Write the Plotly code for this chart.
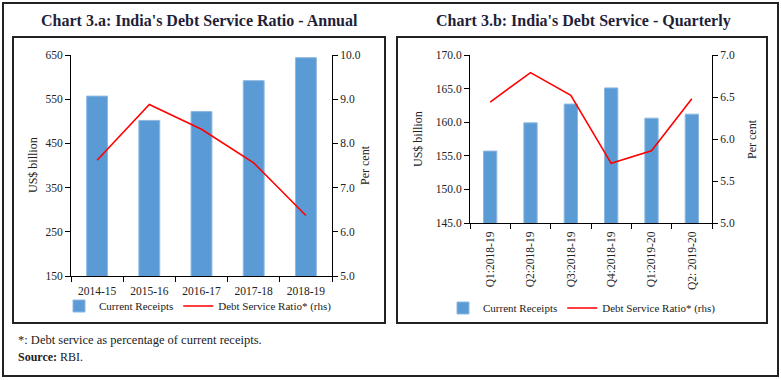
import plotly.graph_objects as go

W, H = 781, 380

years = ["2014-15", "2015-16", "2016-17", "2017-18", "2018-19"]
annual_receipts = [557, 502, 522, 592, 644]
annual_dsr = [7.62, 8.88, 8.32, 7.56, 6.37]

quarters = ["Q1:2018-19", "Q2:2018-19", "Q3:2018-19", "Q4:2018-19", "Q1:2019-20", "Q2: 2019-20"]
q_receipts = [155.7, 159.9, 162.7, 165.1, 160.6, 161.2]
q_dsr = [6.44, 6.79, 6.52, 5.71, 5.86, 6.48]

BAR = "#5B9BD5"
SERIF = "Liberation Serif"
TXT = "#222"

def px(x):
    return x / W

def py(y):
    return 1 - y / H

fig = go.Figure()

fig.add_trace(go.Bar(x=years, y=annual_receipts, name="Current Receipts",
                     marker=dict(color=BAR, line=dict(color="#8FB8E0", width=1)),
                     width=0.4, xaxis="x", yaxis="y", legend="legend"))
fig.add_trace(go.Scatter(x=years, y=annual_dsr, name="Debt Service Ratio* (rhs)",
                         mode="lines", line=dict(color="#FF0000", width=1.6),
                         xaxis="x", yaxis="y2", legend="legend"))
fig.add_trace(go.Bar(x=quarters, y=q_receipts, name="Current Receipts",
                     marker=dict(color=BAR, line=dict(color="#8FB8E0", width=1)),
                     width=0.33, xaxis="x2", yaxis="y3", legend="legend2"))
fig.add_trace(go.Scatter(x=quarters, y=q_dsr, name="Debt Service Ratio* (rhs)",
                         mode="lines", line=dict(color="#FF0000", width=1.6),
                         xaxis="x2", yaxis="y4", legend="legend2"))

tickfont = dict(family=SERIF, size=11.5, color=TXT)
common = dict(showline=True, linecolor="black", linewidth=1, ticks="outside",
              ticklen=5, tickcolor="black", showgrid=False, zeroline=False,
              tickfont=tickfont, automargin=False)

legfont = dict(family=SERIF, size=11, color=TXT)

fig.update_layout(
    template="none",
    width=W, height=H,
    margin=dict(l=0, r=0, t=0, b=0, pad=0, autoexpand=False),
    paper_bgcolor="white", plot_bgcolor="white",
    showlegend=True,
    xaxis=dict(domain=[px(71), px(332)], anchor="y", tickson="boundaries",
               ticklabelstandoff=4, **common),
    yaxis=dict(domain=[py(276), py(55)], anchor="x", range=[150, 650], dtick=100,
               tick0=150, **common),
    yaxis2=dict(overlaying="y", side="right", anchor="x", range=[5, 10], dtick=1,
                tickformat=".1f", **common),
    xaxis2=dict(domain=[px(470), px(712)], anchor="y3", tickson="boundaries",
                tickangle=-90, ticklabelstandoff=3, **common),
    yaxis3=dict(domain=[py(223), py(55)], anchor="x2", range=[145, 170], dtick=5,
                tickformat=".1f", **common),
    yaxis4=dict(overlaying="y3", side="right", anchor="x2", range=[5, 7], dtick=0.5,
                tickformat=".1f", **common),
    legend=dict(orientation="h", x=px(59), y=py(306), xanchor="left", yanchor="middle",
                font=legfont, itemwidth=30,
                bgcolor="rgba(0,0,0,0)", tracegroupgap=0),
    legend2=dict(orientation="h", x=px(443), y=py(308), xanchor="left", yanchor="middle",
                 font=legfont, itemwidth=30,
                 bgcolor="rgba(0,0,0,0)", tracegroupgap=0),
)

shapes = [
    dict(type="rect", xref="paper", yref="paper", x0=px(3), x1=px(778), y0=py(376), y1=py(3),
         line=dict(color="#222", width=2)),
    dict(type="rect", xref="paper", yref="paper", x0=px(13), x1=px(385), y0=py(323), y1=py(37),
         line=dict(color="#222", width=2)),
    dict(type="rect", xref="paper", yref="paper", x0=px(397), x1=px(767), y0=py(323), y1=py(37),
         line=dict(color="#222", width=2)),
]
fig.update_layout(shapes=shapes)

ann = []
ann.append(dict(text="<b>Chart 3.a: India's Debt Service Ratio - Annual</b>", x=px(199), y=py(21),
                xref="paper", yref="paper", showarrow=False, xanchor="center", yanchor="middle",
                font=dict(family=SERIF, size=16, color="#1f1f3a")))
ann.append(dict(text="<b>Chart 3.b: India's Debt Service - Quarterly</b>", x=px(583), y=py(21),
                xref="paper", yref="paper", showarrow=False, xanchor="center", yanchor="middle",
                font=dict(family=SERIF, size=16, color="#1f1f3a")))
for txt, x, y in [("US$ billion", 33, 165), ("Per cent", 365, 165),
                  ("US$ billion", 418, 139), ("Per cent", 752, 139)]:
    ann.append(dict(text=txt, x=px(x), y=py(y), xref="paper", yref="paper", showarrow=False,
                    xanchor="center", yanchor="middle",
                    textangle=-90, font=dict(family=SERIF, size=12, color=TXT)))
ann.append(dict(text="*: Debt service as percentage of current receipts.", x=px(16), y=py(340),
                xref="paper", yref="paper", showarrow=False, xanchor="left", yanchor="middle",
                font=dict(family=SERIF, size=12.5, color=TXT)))
ann.append(dict(text="<b>Source:</b> RBI.", x=px(16), y=py(357),
                xref="paper", yref="paper", showarrow=False, xanchor="left", yanchor="middle",
                font=dict(family=SERIF, size=12, color=TXT)))
fig.update_layout(annotations=ann)

fig.write_html("out.html", config={"displayModeBar": False},
               post_script="document.body.style.margin='0';document.body.style.overflow='hidden';")
